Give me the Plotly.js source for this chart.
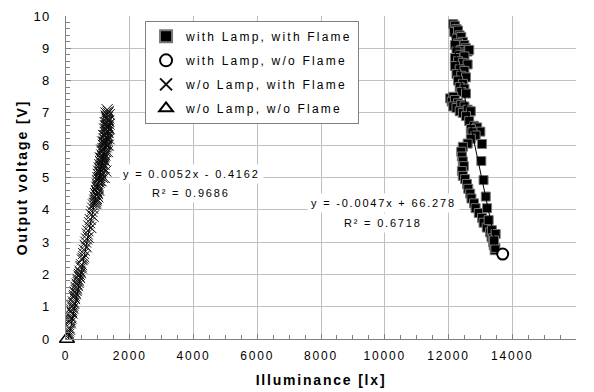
<!DOCTYPE html>
<html>
<head>
<meta charset="utf-8">
<script src="https://cdn.plot.ly/plotly-3.0.1.min.js"></script>
<style>
html,body{margin:0;padding:0;background:#fff;}
.xtick text{letter-spacing:1.8px;}
.ytick text{letter-spacing:1.2px;}
.legendtext{letter-spacing:2.2px;}
.annotation-text{letter-spacing:1.8px;}
.g-xtitle text{letter-spacing:1.8px;}
.g-ytitle text{letter-spacing:1.9px;}
</style>
</head>
<body>
<div id="chart" style="width:594px;height:392px;"></div>
<script>
// Series names
const seriesNames = [
  "with Lamp, with Flame",
  "with Lamp, w/o Flame",
  "w/o Lamp, with Flame",
  "w/o Lamp, w/o Flame"
];

// with Lamp, with Flame (illuminance lx, voltage V)
const lampFlameX = [12150,12200,12250,12180,12300,12350,12250,12400,12450,12300,12200,12500,12550,12400,12250,12600,12650,12350,12500,12200,
  12300,12450,12600,12200,12350,12500,12250,12400,12550,12300,12450,12350,12500,12400,12550,
  12050,12150,12100,12200,12300,12150,12250,12400,12500,12350,12450,12600,12700,12550,
  12650,12800,12900,12700,13000,12750,12850,13050,12700,12600,
  12450,12400,12420,12450,12480,12420,12450,12520,12580,12620,12680,12720,12800,12850,12950,13050,13100,13200,13300,13350,13400,13420,13450,
  13030,13100,13170,13210,13260,13360,13400,13470,13480,13430];
const lampFlameY = [9.75,9.70,9.60,9.50,9.55,9.40,9.30,9.35,9.20,9.15,9.10,9.10,9.00,8.95,8.90,8.90,8.95,8.80,8.75,8.70,
  8.60,8.55,8.50,8.45,8.35,8.30,8.20,8.15,8.10,8.00,7.90,7.80,7.75,7.65,7.60,
  7.45,7.50,7.35,7.40,7.30,7.20,7.15,7.25,7.20,7.05,7.00,7.10,7.05,6.90,
  6.75,6.60,6.55,6.50,6.42,6.40,6.30,6.04,6.20,6.05,
  5.95,5.80,5.65,5.50,5.35,5.20,5.05,4.95,4.80,4.65,4.50,4.35,4.20,4.05,3.90,3.75,3.60,3.45,3.30,3.15,3.00,2.90,2.75,
  5.51,4.92,4.41,4.05,3.68,3.37,3.12,2.82,3.25,3.05];

// with Lamp, w/o Flame
const lampNoFlameX = [13700];
const lampNoFlameY = [2.63];

// w/o Lamp, with Flame
const noLampFlameX = [55,70,85,100,110,120,135,150,160,175,190,200,215,230,245,255,270,285,300,315,330,345,360,375,390,405,420,440,455,470,
  490,510,530,550,575,600,620,645,670,690,715,740,760,790,810,840,860,880,900,910,920,930,940,950,960,965,975,985,990,1000,
  1005,1010,1020,1030,1040,1050,1060,1070,1080,1090,1100,1110,1120,1130,1140,1150,1160,1170,1180,1190,1200,1210,1220,1230,1240,1250,1260,1270,1280,1290,
  1300,1310,1320,1330,1250,1300,1350,1200,1280,1340,1150,1100,1230,1310,1260,1290,1180,1330,1210,1270,1240,1120,1060,1320,
  80,130,180,210,260,320,380,430,480,560,640,700,780,850,
  930,960,990,1010,1040,1060,1090,1110,1140,1160,1190,1210,1240,1260,1290,1310,1340,1360,
  1000,1030,1070,1100,1130,1170,1200,1220,1250,1280,1300,1330,1230,1270,1150,1180,1080,1120,1200,1260,
  950,970,1000,1050,1080,1140,1190,1240,1280,1320,1350,1290,1250,1210];
const noLampFlameY = [0.05,0.20,0.15,0.35,0.30,0.55,0.50,0.70,0.65,0.85,0.80,1.00,0.95,1.15,1.10,1.30,1.25,1.45,1.40,1.60,1.55,1.70,1.65,1.85,1.80,1.95,2.00,2.10,2.05,2.25,
  2.30,2.45,2.50,2.65,2.75,2.90,3.00,3.10,3.25,3.35,3.50,3.60,3.70,3.85,3.95,4.05,4.15,4.20,4.30,4.40,4.25,4.50,4.35,4.60,4.45,4.70,4.55,4.80,4.90,5.00,
  4.75,5.10,5.20,4.95,5.30,5.15,5.40,5.25,5.50,5.35,5.60,5.45,5.70,5.55,5.80,5.65,5.90,6.00,5.85,6.10,6.20,6.05,6.30,6.15,6.40,6.50,6.35,6.60,6.70,6.55,
  6.80,6.90,7.00,7.05,5.20,5.80,6.20,5.00,6.00,6.50,5.00,4.90,5.50,6.30,6.90,7.10,5.30,6.00,5.70,6.25,6.60,5.20,5.00,6.75,
  0.25,0.60,0.90,1.05,1.35,1.50,1.75,1.90,2.20,2.55,2.85,3.15,3.45,3.80,
  4.20,4.35,4.50,4.65,4.85,5.05,5.15,5.30,5.45,5.60,5.75,5.95,6.10,6.25,6.40,6.60,6.75,6.95,
  4.40,4.60,4.90,5.10,5.35,5.55,5.70,5.90,6.05,6.20,6.45,6.55,6.70,6.85,6.10,6.30,5.60,5.85,5.40,5.95,
  4.30,4.55,4.70,5.00,5.25,5.40,5.65,5.80,6.15,6.40,6.65,6.85,7.00,6.50];

// w/o Lamp, w/o Flame
const noLampNoFlameX = [30];
const noLampNoFlameY = [0.0];

// Trendline coefficients (slope, intercept, R²)
const trendNoLamp = {slope: 0.0052, intercept: -0.4162, r2: "0.9686"};
const trendLamp = {slope: -0.0047, intercept: 66.278, r2: "0.6718"};

// Axis ticks
const xTickVals = [0,2000,4000,6000,8000,10000,12000,14000,16000];
const yTickVals = [0,1,2,3,4,5,6,7,8,9,10];

function trendTrace(xs, t) {
  const x0 = Math.min(...xs), x1 = Math.max(...xs);
  return {
    x: [x0, x1],
    y: [t.slope * x0 + t.intercept, t.slope * x1 + t.intercept],
    mode: 'lines', type: 'scatter', showlegend: false, hoverinfo: 'skip',
    line: {color: '#000', width: 1}
  };
}

const traces = [
  {x: lampFlameX, y: lampFlameY, name: seriesNames[0], legendgroup: 'g1', mode: 'markers', type: 'scatter',
   marker: {symbol: 'square', size: 9, color: '#000', line: {color: '#777', width: 1}}},
  {x: lampNoFlameX, y: lampNoFlameY, name: seriesNames[1], legendgroup: 'g2', mode: 'markers', type: 'scatter',
   marker: {symbol: 'circle', size: 11, color: '#fff', line: {color: '#000', width: 2}}},
  {x: noLampFlameX, y: noLampFlameY, name: seriesNames[2], legendgroup: 'g3', mode: 'markers', type: 'scatter',
   marker: {symbol: 'x-thin-open', size: 11, color: '#111', line: {color: '#111', width: 1}}},
  {x: noLampNoFlameX, y: noLampNoFlameY, name: seriesNames[3], legendgroup: 'g4', mode: 'markers', type: 'scatter',
   cliponaxis: false,
   marker: {symbol: 'triangle-up-open', size: 13, color: '#000', line: {color: '#000', width: 1.5}}},
  trendTrace(lampFlameX, trendLamp),
  trendTrace(noLampFlameX, trendNoLamp)
];

const fmt = (t) => {
  const s = t.slope.toFixed(4);
  const ic = t.intercept < 0 ? '- ' + Math.abs(t.intercept) : '+ ' + t.intercept;
  return 'y = ' + s + 'x ' + ic;
};

const annFont = {family: 'Liberation Sans, Arial, sans-serif', size: 11, color: '#000'};

const layout = {
  width: 594, height: 392,
  margin: {l: 66, r: 18, t: 16, b: 53},
  paper_bgcolor: '#fff', plot_bgcolor: '#fff',
  font: {family: 'Liberation Sans, Arial, sans-serif', color: '#000'},
  showlegend: true,
  hovermode: false,
  legend: {
    x: 0.155, y: 0.985, xanchor: 'left', yanchor: 'top',
    bgcolor: '#fff', bordercolor: '#808080', borderwidth: 1,
    font: {family: 'Liberation Sans, Arial, sans-serif', size: 12, color: '#000'},
    traceorder: 'grouped', tracegroupgap: 5, itemsizing: 'constant', itemwidth: 30
  },
  xaxis: {
    range: [0, 16000], tickvals: xTickVals, ticktext: xTickVals.map(String),
    showgrid: true, gridcolor: '#c0c0c0', gridwidth: 1,
    showline: true, linecolor: '#808080', linewidth: 1,
    zeroline: false, ticks: 'inside', ticklen: 5, tickcolor: '#808080',
    ticklabelstandoff: 6,
    minor: {dtick: 500, ticks: 'inside', ticklen: 4, tickcolor: '#808080', showgrid: false},
    tickfont: {family: 'Liberation Sans, Arial, sans-serif', size: 12, color: '#000'},
    title: {text: 'Illuminance [lx]', standoff: 12,
      font: {family: 'Liberation Sans, Arial, sans-serif', size: 14, weight: 'bold', color: '#000'}}
  },
  yaxis: {
    range: [0, 10], tickvals: yTickVals, ticktext: yTickVals.map(String),
    showgrid: true, gridcolor: '#c0c0c0', gridwidth: 1,
    showline: true, linecolor: '#808080', linewidth: 1,
    zeroline: false, ticks: 'inside', ticklen: 5, tickcolor: '#808080',
    ticklabelstandoff: 12,
    minor: {dtick: 0.2, ticks: 'inside', ticklen: 4, tickcolor: '#808080', showgrid: false},
    tickfont: {family: 'Liberation Sans Narrow, Liberation Sans, Arial, sans-serif', size: 13, color: '#000'},
    title: {text: 'Output voltage [V]', standoff: 2,
      font: {family: 'Liberation Sans, Arial, sans-serif', size: 14, weight: 'bold', color: '#000'}}
  },
  annotations: [
    {x: 3925, y: 5.11, xref: 'x', yref: 'y', text: fmt(trendNoLamp), showarrow: false,
     bgcolor: '#fff', borderpad: 3, font: annFont},
    {x: 3925, y: 4.52, xref: 'x', yref: 'y', text: 'R² = ' + trendNoLamp.r2, showarrow: false,
     bgcolor: '#fff', borderpad: 3, font: annFont},
    {x: 9953, y: 4.21, xref: 'x', yref: 'y', text: fmt(trendLamp), showarrow: false,
     bgcolor: '#fff', borderpad: 3, font: annFont},
    {x: 9953, y: 3.59, xref: 'x', yref: 'y', text: 'R² = ' + trendLamp.r2, showarrow: false,
     bgcolor: '#fff', borderpad: 3, font: annFont}
  ]
};

Plotly.newPlot('chart', traces, layout, {staticPlot: true, displayModeBar: false});
</script>
</body>
</html>
